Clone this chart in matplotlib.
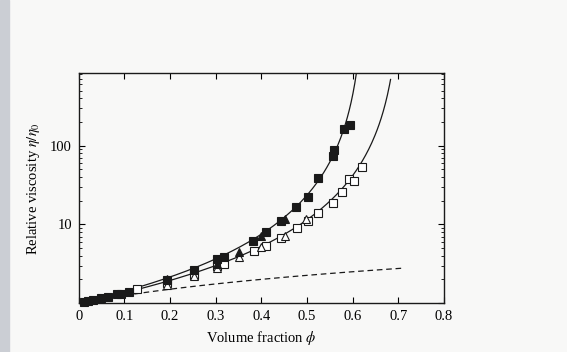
import numpy as np
import matplotlib
matplotlib.use("Agg")
import matplotlib.pyplot as plt
from matplotlib.ticker import LogLocator, NullFormatter, FixedLocator, FixedFormatter

# measured suspensions: filled = low shear, open = high shear
phi_sq_filled = [0.011, 0.021, 0.032, 0.049, 0.065, 0.083, 0.093, 0.109, 0.194, 0.252,
                 0.302, 0.317, 0.381, 0.410, 0.442, 0.476, 0.502, 0.525, 0.556, 0.559,
                 0.581, 0.595]
eta_sq_filled = [1.03, 1.05, 1.09, 1.15, 1.19, 1.30, 1.32, 1.40, 1.96, 2.61,
                 3.65, 3.83, 6.2, 8.1, 11.0, 16.6, 22.2, 38.3, 73.0, 87.0,
                 161.0, 181.0]

phi_tri_filled = [0.194, 0.302, 0.351, 0.400, 0.452]
eta_tri_filled = [2.05, 3.16, 4.5, 7.1, 11.8]

phi_sq_open = [0.127, 0.194, 0.252, 0.302, 0.317, 0.383, 0.410, 0.442, 0.478, 0.502,
               0.525, 0.556, 0.577, 0.593, 0.603, 0.621]
eta_sq_open = [1.50, 1.78, 2.30, 3.0, 3.1, 4.55, 5.3, 6.8, 9.0, 11.0,
               14.0, 18.6, 26.0, 37.6, 36.0, 53.5]

phi_tri_open = [0.194, 0.252, 0.302, 0.351, 0.400, 0.452, 0.498]
eta_tri_open = [1.69, 2.20, 2.79, 3.85, 5.1, 7.1, 11.8]

# Krieger-Dougherty type fits: eta_r = (1 - phi/phi_m)^-n
phi_m = [0.63, 0.71]
kd_exp = 2.0
phi_end = [0.615, 0.683]

# Einstein limit eta_r = 1 + 2.5 phi
einstein_coef = 2.5
einstein_end = 0.71

plt.rcParams.update({
    "font.family": ["Liberation Serif", "DejaVu Serif"],
    "mathtext.fontset": "stix",
    "font.size": 10,
})

fig = plt.figure(figsize=(5.67, 3.52), dpi=100)
fig.patch.set_facecolor("#f8f8f7")
# grey page edge on the left
fig.patches.append(plt.Rectangle((0, 0), 9 / 567, 1, transform=fig.transFigure,
                                 color="#cbced4", zorder=0))
ax = fig.add_axes([0.139, 0.139, 0.644, 0.653])
ax.set_facecolor("#f8f8f7")

for pm, pe in zip(phi_m, phi_end):
    p = np.linspace(0, pe, 300)
    ax.plot(p, (1 - p / pm) ** (-kd_exp), color="#1a1a1a", lw=0.9, zorder=2)

pe = np.linspace(0, einstein_end, 50)
ax.plot(pe, 1 + einstein_coef * pe, color="#1a1a1a", lw=0.9, ls=(0, (4.5, 3)), zorder=2)

ms = 5.6
ax.plot(phi_sq_open, eta_sq_open, "s", ms=ms, mfc="white", mec="#1a1a1a", mew=0.8, zorder=3)
ax.plot(phi_tri_open, eta_tri_open, "^", ms=ms, mfc="white", mec="#1a1a1a", mew=0.8, zorder=3)
ax.plot(phi_sq_filled, eta_sq_filled, "s", ms=ms, mfc="#1a1a1a", mec="#1a1a1a", mew=0.8,
        zorder=4, clip_on=False)
ax.plot(phi_tri_filled, eta_tri_filled, "^", ms=ms, mfc="#1a1a1a", mec="#1a1a1a", mew=0.8, zorder=4)

ax.set_yscale("log")
ax.set_xlim(0, 0.8)
ax.set_ylim(1, 830)

ax.set_xticks(np.arange(0, 0.81, 0.1))
ax.set_xticklabels(["0", "0.1", "0.2", "0.3", "0.4", "0.5", "0.6", "0.7", "0.8"])
ax.yaxis.set_major_locator(FixedLocator([1, 10, 100]))
ax.yaxis.set_major_formatter(FixedFormatter(["", "10", "100"]))
ax.yaxis.set_minor_locator(LogLocator(base=10, subs=np.arange(2, 10)))
ax.yaxis.set_minor_formatter(NullFormatter())

ax.tick_params(axis="both", which="major", direction="in", length=4, width=0.8,
               top=True, right=True, labelsize=10.5, pad=5)
ax.tick_params(axis="y", which="minor", direction="in", length=2.5, width=0.6, right=True)
for s in ax.spines.values():
    s.set_linewidth(1.0)
    s.set_color("#1a1a1a")

ax.set_xlabel(r"Volume fraction $\phi$", fontsize=10.5, labelpad=4)
ax.set_ylabel(r"Relative viscosity $\eta/\eta_0$", fontsize=10.5, labelpad=6)

fig.savefig("out.png", dpi=100, facecolor=fig.get_facecolor())
